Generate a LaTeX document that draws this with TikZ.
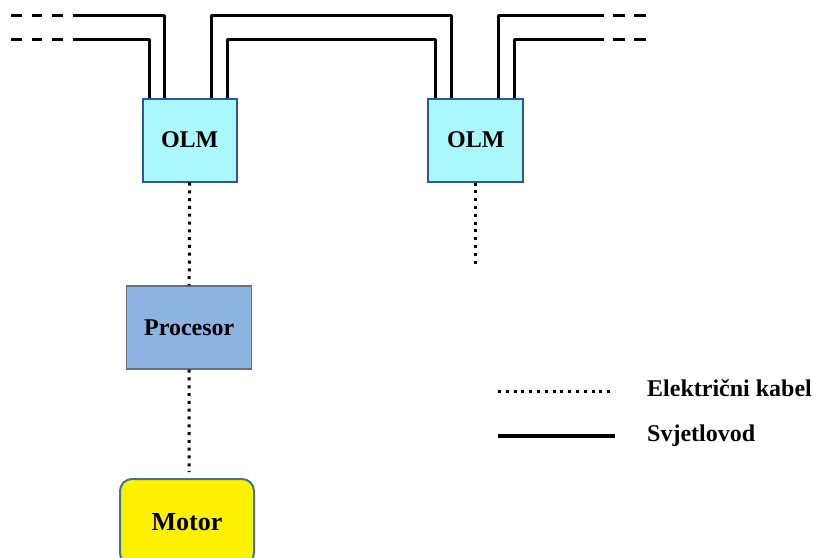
\documentclass[tikz,border=0pt]{standalone}
\usepackage{fontspec}
\setmainfont{Liberation Serif}
\usetikzlibrary{calc}
\definecolor{olmfill}{HTML}{AAF8FC}
\definecolor{olmdraw}{HTML}{2F5597}
\definecolor{procfill}{HTML}{8DB3E2}
\definecolor{procdraw}{HTML}{6A6F78}
\definecolor{motordraw}{HTML}{41719C}
\begin{document}
\begin{tikzpicture}[x=1pt,y=-1pt,
  lbl/.style={font=\fontsize{24}{28}\selectfont\bfseries},
  olmbox/.style={draw=olmdraw,line width=2pt,fill=olmfill,minimum width=94pt,minimum height=83pt,inner sep=0pt,lbl},
  procbox/.style={draw=procdraw,line width=1.3pt,fill=procfill,minimum width=125pt,minimum height=83pt,inner sep=0pt,lbl},
  motorbox/.style={draw=motordraw,line width=2pt,fill=yellow,rounded corners=12pt,minimum width=134pt,minimum height=86pt,inner sep=0pt,font=\fontsize{26}{30}\selectfont\bfseries},
  fiber/.style={line width=3pt,line join=round},
  fiberdash/.style={line width=2.6pt,dash pattern=on 10.5pt off 10pt},
  fiberdashr/.style={line width=2.6pt,dash pattern=on 12pt off 9pt},
  elec/.style={line width=3pt,dash pattern=on 3pt off 4.8pt}
]
\useasboundingbox (0,0) rectangle (818,557);
\clip (0,0) rectangle (818,557);

% nodes
\node[olmbox] (olm1) at (189.7,140) {OLM};
\node[olmbox,minimum width=95pt] (olm2) at (475.8,140) {OLM};
\node[procbox] (proc) at (189.2,327.5) {Procesor};
\node[motorbox] (motor) at (187,522) {Motor};

% fiber end coordinates
\coordinate (lo) at (73,15.5);
\coordinate (li) at (73,39.5);
\coordinate (lod) at (11,15.5);
\coordinate (lid) at (11,39.5);
\coordinate (ro) at (591.7,15.5);
\coordinate (ri) at (591.7,39.5);
\coordinate (rod) at (647,15.5);
\coordinate (rid) at (647,39.5);

% fibers (optical)
\draw[fiber] (lo) -| ($(olm1.north west)+(23,0)$);
\draw[fiber] (li) -| ($(olm1.north west)+(8,0)$);
\draw[fiberdash] (lod) -- (lo);
\draw[fiberdash] (lid) -- (li);
\draw[fiber] ($(olm1.north west)+(69.3,0)$) |- (212,15.5) -| ($(olm2.north west)+(24,0)$);
\draw[fiber] ($(olm1.north west)+(85.3,0)$) |- (228,39.5) -| ($(olm2.north west)+(8.4,0)$);
\draw[fiber] ($(olm2.north west)+(70.7,0)$) |- (ro);
\draw[fiber] ($(olm2.north west)+(86.7,0)$) |- (ri);
\draw[fiberdashr] (ro) -- (rod);
\draw[fiberdashr] (ri) -- (rid);

% electrical cables
\coordinate (olm2end) at (475.8,265);
\draw[elec] (olm1.south) -- (proc.north);
\draw[elec] (proc.south) -- ($(motor.north)+(2,-6)$);
\draw[elec] (olm2.south) -- (olm2end);

% legend
\coordinate (la) at (498,391.7);
\coordinate (lb) at (615,391.7);
\coordinate (lc) at (498,436);
\coordinate (ld) at (615,436);
\draw[elec] (la) -- (lb);
\draw[line width=3.6pt] (lc) -- (ld);
\node[lbl,anchor=base west,inner sep=0pt] (t1) at (647,396) {Električni kabel};
\node[lbl,anchor=base west,inner sep=0pt] (t2) at (647,441.5) {Svjetlovod};
\end{tikzpicture}
\end{document}
